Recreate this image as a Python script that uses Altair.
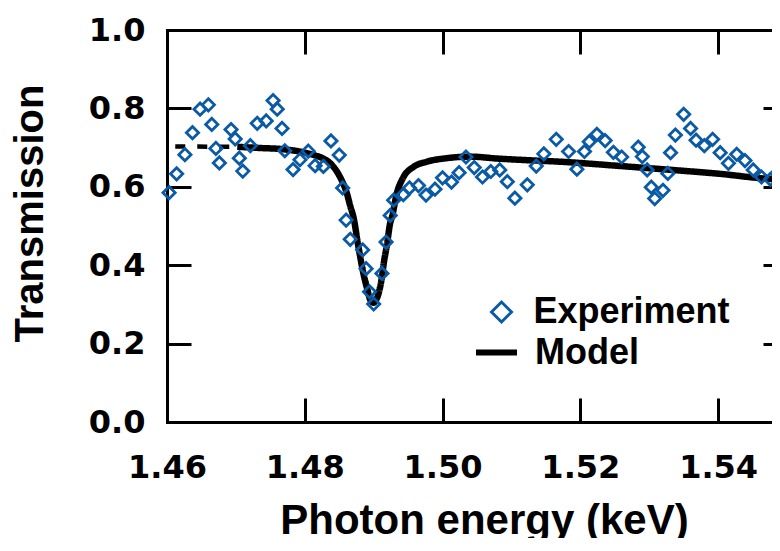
import altair as alt
import pandas as pd

# ---------------- data ----------------
exp_energy = [1.4603, 1.4614, 1.4626, 1.4637, 1.4648, 1.4660, 1.4665, 1.4671, 1.4676, 1.4693,
              1.4699, 1.4705, 1.4710, 1.4721, 1.4731, 1.4744, 1.4754, 1.4760, 1.4767, 1.4771,
              1.4783, 1.4793, 1.4805, 1.4815, 1.4827, 1.4838, 1.4850, 1.4855, 1.4860, 1.4866,
              1.4884, 1.4889, 1.4894, 1.4900, 1.4912, 1.4918, 1.4924, 1.4929, 1.4943, 1.4952,
              1.4965, 1.4976, 1.4989, 1.5000, 1.5013, 1.5024, 1.5034, 1.5046, 1.5058, 1.5070,
              1.5083, 1.5094, 1.5105, 1.5123, 1.5136, 1.5147, 1.5165, 1.5183, 1.5195, 1.5206,
              1.5213, 1.5224, 1.5236, 1.5248, 1.5260, 1.5284, 1.5290, 1.5297, 1.5303, 1.5308,
              1.5320, 1.5327, 1.5331, 1.5338, 1.5350, 1.5360, 1.5368, 1.5380, 1.5392, 1.5403,
              1.5415, 1.5427, 1.5439, 1.5451, 1.5463, 1.5476, 1.5488]
exp_trans = [0.585, 0.633, 0.682, 0.738, 0.798, 0.809, 0.759, 0.698, 0.661, 0.746,
             0.722, 0.673, 0.640, 0.705, 0.762, 0.768, 0.820, 0.798, 0.749, 0.692,
             0.644, 0.669, 0.691, 0.654, 0.652, 0.717, 0.681, 0.597, 0.515, 0.466,
             0.439, 0.391, 0.332, 0.301, 0.379, 0.459, 0.527, 0.566, 0.580, 0.597,
             0.603, 0.579, 0.594, 0.623, 0.612, 0.636, 0.676, 0.649, 0.625, 0.639,
             0.643, 0.613, 0.571, 0.605, 0.653, 0.684, 0.721, 0.690, 0.645, 0.690,
             0.715, 0.734, 0.718, 0.688, 0.676, 0.701, 0.677, 0.643, 0.599, 0.570,
             0.591, 0.634, 0.687, 0.732, 0.785, 0.749, 0.719, 0.705, 0.721, 0.687,
             0.660, 0.683, 0.667, 0.643, 0.625, 0.619, 0.639]

model_energy = [1.4702, 1.4735, 1.4768, 1.4803, 1.4815, 1.4826, 1.4837, 1.4848, 1.4854, 1.4861,
                1.4866, 1.4871, 1.4877, 1.4885, 1.4891, 1.4895, 1.4900, 1.4903, 1.4907, 1.4912,
                1.4915, 1.4919, 1.4924, 1.4927, 1.4933, 1.4943, 1.4958, 1.4977, 1.5006, 1.5040,
                1.5080, 1.5122, 1.5171, 1.5258, 1.5333, 1.5403, 1.5461, 1.5500]
model_trans = [0.702, 0.699, 0.696, 0.686, 0.680, 0.673, 0.660, 0.635, 0.615, 0.584,
               0.551, 0.520, 0.456, 0.380, 0.337, 0.312, 0.304, 0.310, 0.327, 0.370,
               0.409, 0.449, 0.508, 0.526, 0.579, 0.624, 0.651, 0.664, 0.673, 0.677,
               0.672, 0.668, 0.664, 0.653, 0.643, 0.633, 0.622, 0.617]

dash_energy = [1.4612, 1.4702]
dash_trans = [0.703, 0.702]

x_ticks = [1.46, 1.48, 1.50, 1.52, 1.54]
y_ticks = [0.0, 0.2, 0.4, 0.6, 0.8, 1.0]

exp_df = pd.DataFrame({"energy": exp_energy, "trans": exp_trans, "series": ["Experiment"] * len(exp_energy)})
model_df = pd.DataFrame({"energy": model_energy, "trans": model_trans, "series": ["Model"] * len(model_energy)})
dash_df = pd.DataFrame({"energy": dash_energy, "trans": dash_trans})

BLUE = "#0a5aa6"
TICKFONT = "DejaVu Sans"
TITLEFONT = "Liberation Sans"

# plot spans 1.46 .. 1.55 over 620 px; the picture is cut at the window's right edge
xscale = alt.Scale(domain=[1.46, 1.55], range=[0, 620], nice=False, zero=False)
yscale = alt.Scale(domain=[0, 1], nice=False, zero=False)

tick_common = dict(tickSize=24, tickWidth=3, tickColor="black", domain=False, grid=False)
frame_common = dict(offset=0, ticks=False, labels=False, grid=False, title=None,
                    domain=True, domainWidth=3, domainColor="black", domainCap="square")

x_bottom = alt.Axis(
    orient="bottom", values=x_ticks, format=".2f", offset=-24, **tick_common,
    labelFont=TICKFONT, labelFontSize=32, labelFontWeight="bold", labelColor="black",
    labelPadding=30, labelFlush=False,
    title="Photon energy (keV)", titleFont=TITLEFONT, titleFontSize=42, titleFontWeight="bold",
    titleColor="black", titleX=317, titleY=135, titleBaseline="alphabetic", titleAlign="center",
)
y_left = alt.Axis(
    orient="left", values=y_ticks, format=".1f", offset=-24, **tick_common,
    labelFont=TICKFONT, labelFontSize=32, labelFontWeight="bold", labelColor="black",
    labelPadding=22, labelFlush=False,
    title="Transmission", titleFont=TITLEFONT, titleFontSize=40, titleFontWeight="bold",
    titleColor="black", titleX=-149, titleY=183, titleAngle=270, titleBaseline="alphabetic",
    titleAlign="center",
)
x_top = alt.Axis(orient="top", values=x_ticks, offset=-24, labels=False, title=None, **tick_common)
y_right = alt.Axis(orient="right", values=y_ticks, offset=-9, labels=False, title=None, **tick_common)

x_frame_bottom = alt.Axis(orient="bottom", **frame_common)
y_frame_left = alt.Axis(orient="left", **frame_common)
x_frame_top = alt.Axis(orient="top", **frame_common)

points = alt.Chart(exp_df).mark_point(
    shape="diamond", filled=False, strokeWidth=2.8, size=150, opacity=1
).encode(
    x=alt.X("energy:Q", scale=xscale, axis=x_bottom),
    y=alt.Y("trans:Q", scale=yscale, axis=y_left),
    color=alt.Color(
        "series:N",
        scale=alt.Scale(domain=["Experiment"], range=[BLUE]),
        legend=alt.Legend(
            orient="none", legendX=316.5, legendY=264, title=None, padding=0,
            symbolType="diamond", symbolSize=400, symbolStrokeWidth=3, symbolOpacity=1,
            labelFont=TITLEFONT, labelFontSize=36, labelFontWeight="bold", labelColor="black",
            labelOffset=14, labelLimit=400,
        ),
    ),
)

model = alt.Chart(model_df).mark_line(
    strokeWidth=6.5, interpolate="monotone", color="black"
).encode(
    x=alt.X("energy:Q", scale=xscale, axis=x_top),
    y=alt.Y("trans:Q", scale=yscale, axis=y_right),
    strokeDash=alt.StrokeDash(
        "series:N",
        scale=alt.Scale(domain=["Model"], range=[[1, 0]]),
        legend=alt.Legend(
            orient="none", legendX=306, legendY=299, title=None, padding=0,
            symbolType="stroke", symbolSize=1681, symbolStrokeWidth=6, symbolStrokeColor="black",
            labelFont=TITLEFONT, labelFontSize=36, labelFontWeight="bold", labelColor="black",
            labelOffset=15, labelLimit=400,
        ),
    ),
)

dashed = alt.Chart(dash_df).mark_line(strokeWidth=4.5, strokeDash=[10, 12], color="black").encode(
    x=alt.X("energy:Q", scale=xscale, axis=x_frame_bottom),
    y=alt.Y("trans:Q", scale=yscale, axis=y_frame_left),
)

frame_top = alt.Chart(dash_df).mark_line(opacity=0, color="black").encode(
    x=alt.X("energy:Q", scale=xscale, axis=x_frame_top),
    y=alt.Y("trans:Q", scale=yscale, axis=None),
)

chart = alt.layer(frame_top, model, dashed, points).resolve_axis(
    x="independent", y="independent"
).properties(
    width=605,
    height=392,
    background="white",
    autosize=alt.AutoSizeParams(type="none"),
    padding={"left": 159, "top": 22, "right": 0, "bottom": 116},
).configure_view(
    stroke="transparent", strokeWidth=0
)

chart.save("out.html", embed_options={"renderer": "svg", "actions": False})
